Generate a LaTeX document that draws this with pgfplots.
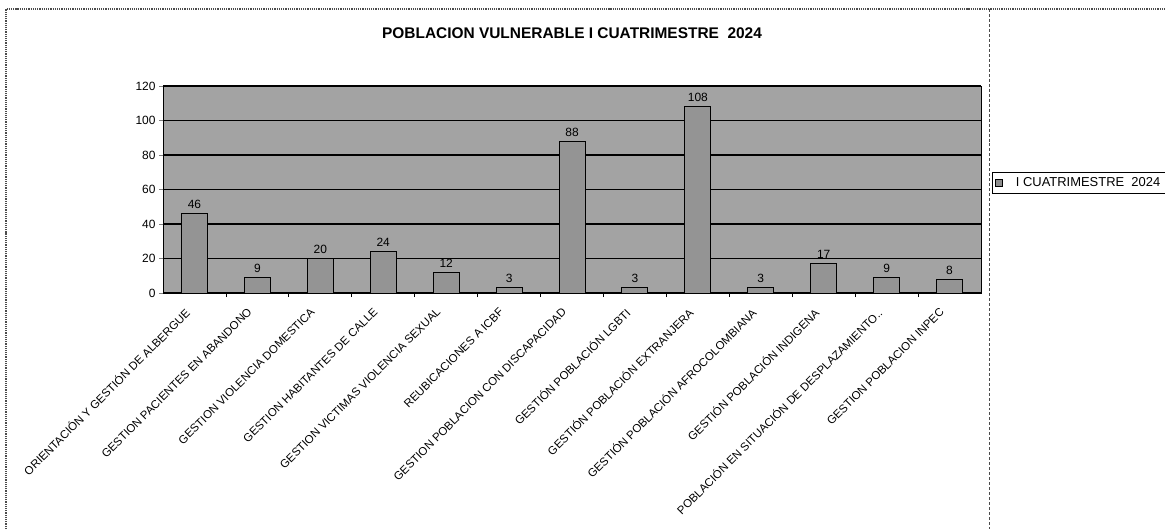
\documentclass[border=0pt]{standalone}
\usepackage{fontspec}
\setmainfont{Liberation Sans}
\usepackage{pgfplots}
\pgfplotsset{compat=1.18}
\begin{document}
\begin{tikzpicture}[x=1bp,y=1bp]
\useasboundingbox (0,0) rectangle (1165,-529);
\fill[white] (0,0) rectangle (1165,-529);
\draw[black!70, densely dotted, line width=1.2bp] (6,-529) -- (6,-9) -- (1165,-9);
\draw[black!70, densely dashed, line width=0.8bp] (989,-9) -- (989,-529);
\begin{axis}[
  at={(163bp,-293bp)}, anchor=south west,
  scale only axis, width=818bp, height=207bp,
  xmin=-0.5, xmax=12.5, ymin=0, ymax=120,
  ytick={0,20,...,120},
  ymajorgrids, grid style={black, line width=1.1bp},
  axis background/.style={fill=black!36},
  axis line style={black, line width=1bp},
  xtick={0,...,12},
  xticklabels={ORIENTACIÓN Y GESTIÓN DE ALBERGUE,GESTION PACIENTES EN ABANDONO,GESTION VIOLENCIA DOMESTICA,GESTION HABITANTES DE CALLE,GESTION VICTIMAS VIOLENCIA SEXUAL,REUBICACIONES A ICBF,GESTION POBLACION CON DISCAPACIDAD,GESTIÓN POBLACIÓN LGBTI,GESTIÓN POBLACIÓN EXTRANJERA,GESTIÓN POBLACIÓN AFROCOLOMBIANA,GESTIÓN POBLACIÓN INDIGENA,POBLACIÓN EN SITUACIÓN DE DESPLAZAMIENTO..,GESTION POBLACION INPEC},
  major x tick style={draw=none},
  minor xtick={0.5,1.5,...,11.5},
  minor tick style={black, line width=0.8bp},
  minor tick length=4bp,
  major tick length=4bp,
  tick align=outside,
  xtick pos=bottom, ytick pos=left,
  x tick label style={rotate=45, anchor=north east, font=\fontsize{11.5}{12}\selectfont, inner sep=0bp, yshift=0.5bp, xshift=-14.5bp},
  y tick label style={font=\fontsize{12}{13}\selectfont},
  /pgf/number format/assume math mode=true,
  title={\bfseries POBLACION VULNERABLE I CUATRIMESTRE\ \ 2024},
  title style={font=\fontsize{15.5}{16}\selectfont, at={(0.5,1)}, anchor=south, yshift=38bp},
  legend style={at={(1.0134,0.531)}, anchor=west, draw=black, line width=1bp, font=\fontsize{13}{14}\selectfont, inner sep=3bp, legend cell align=left},
  legend image code/.code={\draw[fill=black!45, line width=0.6bp] (0bp,-3.5bp) rectangle (7bp,3.5bp);},
  nodes near coords,
  nodes near coords style={font=\fontsize{12}{13}\selectfont, yshift=1bp},
]
\addplot[ybar, bar width=26bp, fill=black!42, draw=black, line width=1bp]
coordinates {(0,46) (1,9) (2,20) (3,24) (4,12) (5,3) (6,88) (7,3) (8,108) (9,3) (10,17) (11,9) (12,8)};
\addlegendentry{\ \ \ I CUATRIMESTRE\ \ 2024}
\end{axis}
\end{tikzpicture}
\end{document}
